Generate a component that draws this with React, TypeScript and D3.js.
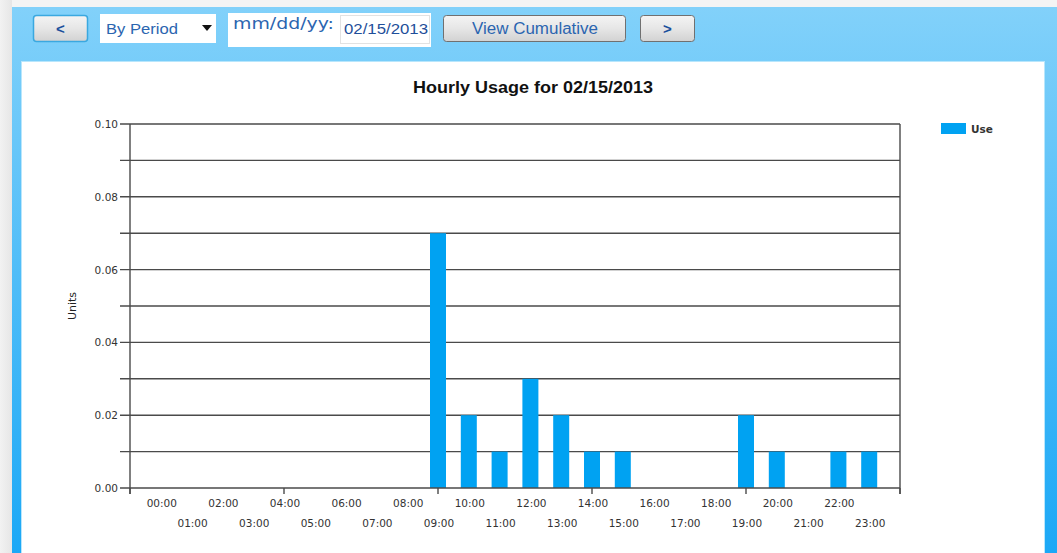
import * as d3 from 'd3';

const hours = [
  '00:00', '01:00', '02:00', '03:00', '04:00', '05:00', '06:00', '07:00',
  '08:00', '09:00', '10:00', '11:00', '12:00', '13:00', '14:00', '15:00',
  '16:00', '17:00', '18:00', '19:00', '20:00', '21:00', '22:00', '23:00',
];
const usage = [
  0, 0, 0, 0, 0, 0, 0, 0,
  0, 0.07, 0.02, 0.01, 0.03, 0.02, 0.01, 0.01,
  0, 0, 0, 0.02, 0.01, 0, 0.01, 0.01,
];
const yLabels = [0, 0.02, 0.04, 0.06, 0.08, 0.1];
const yGrid = [0.01, 0.02, 0.03, 0.04, 0.05, 0.06, 0.07, 0.08, 0.09, 0.1];
const xMajor = [-1, 4, 9, 14, 19, 24];

const W = 1057;
const H = 553;
const BAR = '#00a2f2';
const FONT = '"Liberation Sans", Arial, sans-serif';
const LABEL_FONT = '"DejaVu Sans", Verdana, sans-serif';

const App = () => {
  // plot area
  const left = 130, right = 900, top = 124, bottom = 488;

  const x = d3.scaleLinear().domain([-1, 24]).range([left, right]);
  const y = d3.scaleLinear().domain([0, 0.1]).range([bottom, top]);
  const barW = 16;

  return (
    <svg width={W} height={H} style={{position: 'absolute', left: 0, top: 0, display: 'block'}}>
      <defs>
        <linearGradient id="frame" x1="0" y1="0" x2="0" y2="1">
          <stop offset="0" stopColor="#82d1fa" />
          <stop offset="1" stopColor="#1ba8f6" />
        </linearGradient>
        <linearGradient id="side" x1="0" y1="0" x2="1" y2="0">
          <stop offset="0" stopColor="#f2f2f2" />
          <stop offset="1" stopColor="#e6e6e6" />
        </linearGradient>
        <linearGradient id="btn" x1="0" y1="0" x2="0" y2="1">
          <stop offset="0" stopColor="#f4f4f4" />
          <stop offset="0.5" stopColor="#e6e6e6" />
          <stop offset="1" stopColor="#d2d2d2" />
        </linearGradient>
      </defs>

      {/* page background and blue frame */}
      <rect x={0} y={0} width={W} height={H} fill="#f4f4f4" />
      <rect x={0} y={0} width={12} height={H} fill="url(#side)" />
      <rect x={12} y={7} width={W - 12} height={H - 7} fill="url(#frame)" />
      <rect x={21} y={61} width={1024} height={H - 61} fill="#b8e6fc" />
      <rect x={22} y={62} width={1022} height={H - 62} fill="#ffffff" />

      {/* toolbar */}
      <rect x={33.5} y={15.5} width={54} height={26} rx={3} fill="url(#btn)" stroke="#3aa8e0" strokeWidth={1.5} />
      <text x={60.5} y={34} textAnchor="middle" fontFamily={FONT} fontSize={15} fontWeight="bold" fill="#1a4f9c">&lt;</text>

      <rect x={100} y={14} width={116} height={29} fill="#ffffff" />
      <text x={106} y={34} fontFamily={FONT} fontSize={15} fill="#2b65b0" textLength={72} lengthAdjust="spacingAndGlyphs">By Period</text>
      <path d="M202,25 L212,25 L207,31 Z" fill="#111" />

      <rect x={228} y={13} width={203} height={34} fill="#ffffff" />
      <text x={233} y={29} fontFamily={LABEL_FONT} fontSize={16.5} fill="#2b65b0" textLength={101} lengthAdjust="spacingAndGlyphs">mm/dd/yy:</text>
      <rect x={340.5} y={15.5} width={89} height={28} fill="#ffffff" stroke="#e2e2e2" />
      <text x={344} y={34} fontFamily={FONT} fontSize={14} fill="#1f4f9a" textLength={84} lengthAdjust="spacingAndGlyphs">02/15/2013</text>

      <rect x={443.5} y={15.5} width={182} height={26} rx={3} fill="url(#btn)" stroke="#707070" />
      <text x={535} y={34} textAnchor="middle" fontFamily={FONT} fontSize={16} fill="#2b65b0" textLength={126} lengthAdjust="spacingAndGlyphs">View Cumulative</text>

      <rect x={640.5} y={15.5} width={54} height={26} rx={3} fill="url(#btn)" stroke="#707070" />
      <text x={667.5} y={34} textAnchor="middle" fontFamily={FONT} fontSize={15} fontWeight="bold" fill="#1a4f9c">&gt;</text>

      {/* title */}
      <text x={533} y={93} textAnchor="middle" fontFamily={FONT} fontSize={16} fontWeight="bold" fill="#111" textLength={240} lengthAdjust="spacingAndGlyphs">
        Hourly Usage for 02/15/2013
      </text>

      {/* gridlines */}
      {yGrid.map(v => (
        <line key={v} x1={left - 10} x2={right} y1={y(v)} y2={y(v)} stroke="#4a4a4a" strokeWidth={1.4} />
      ))}

      {/* bars */}
      {usage.map((v, i) => v > 0 && (
        <rect key={i} x={x(i) - barW / 2} y={y(v)} width={barW} height={y(0) - y(v)} fill={BAR} />
      ))}

      {/* axes */}
      <line x1={left - 10} x2={right} y1={bottom} y2={bottom} stroke="#4a4a4a" strokeWidth={1.4} />
      <line x1={left} x2={left} y1={top} y2={bottom + 6} stroke="#4a4a4a" strokeWidth={1.4} />
      <line x1={right} x2={right} y1={top} y2={bottom + 6} stroke="#4a4a4a" strokeWidth={1.4} />
      {xMajor.map(t => (
        <line key={t} x1={x(t)} x2={x(t)} y1={bottom} y2={bottom + 6} stroke="#4a4a4a" strokeWidth={1.4} />
      ))}

      {/* y tick labels */}
      {yLabels.map(v => (
        <text key={v} x={left - 12} y={y(v) + 4} textAnchor="end" fontFamily={LABEL_FONT} fontSize={10.5} fill="#333">
          {v.toFixed(2)}
        </text>
      ))}

      {/* x tick labels, staggered */}
      {hours.map((h, i) => (
        <text key={h} x={x(i) + 1} y={i % 2 === 0 ? 507 : 527} textAnchor="middle" fontFamily={LABEL_FONT} fontSize={10.5} fill="#333">
          {h}
        </text>
      ))}

      {/* y axis title */}
      <text transform={`translate(76, ${(top + bottom) / 2}) rotate(-90)`} textAnchor="middle" fontFamily={LABEL_FONT} fontSize={11} fill="#222">
        Units
      </text>

      {/* legend */}
      <rect x={941} y={123} width={25} height={11} fill={BAR} />
      <text x={971} y={133} fontFamily={LABEL_FONT} fontSize={10.5} fontWeight="bold" fill="#333">Use</text>
    </svg>
  );
};

export default App;
